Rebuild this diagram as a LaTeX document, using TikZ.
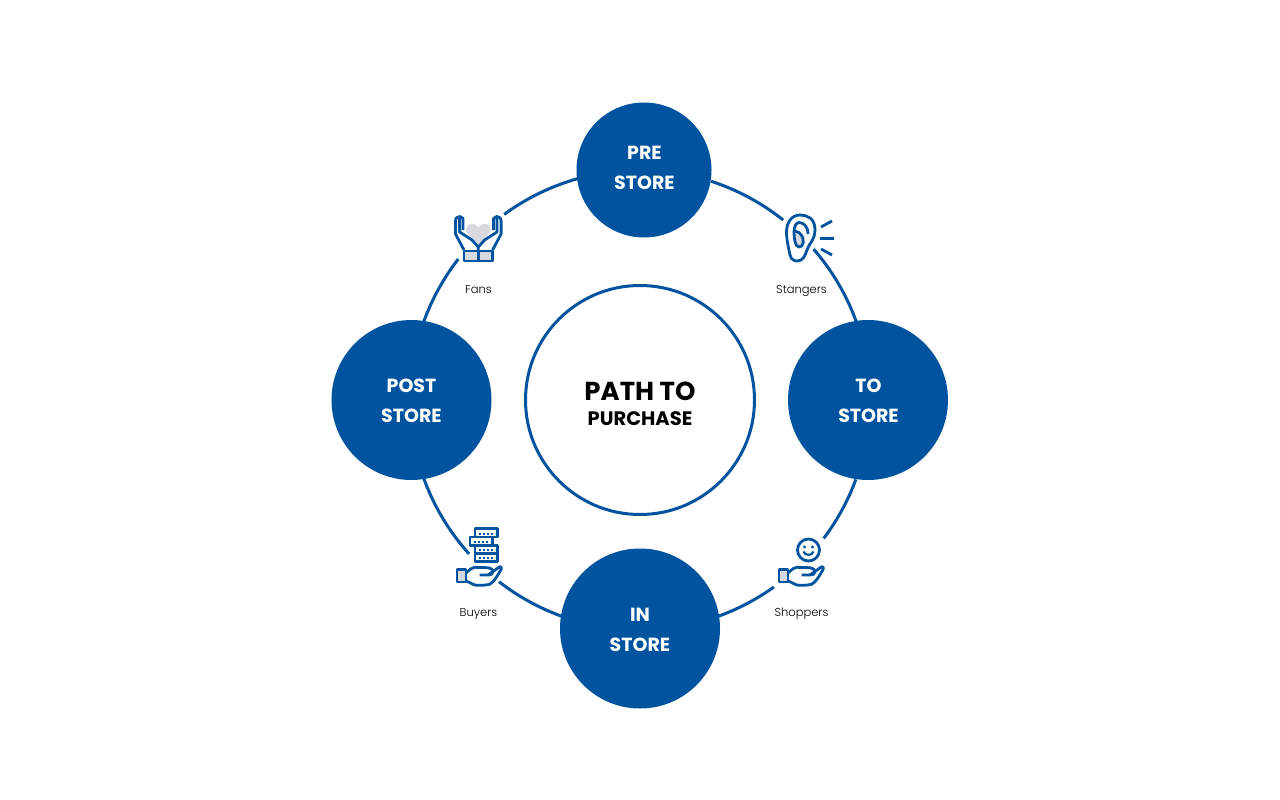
\documentclass[tikz,border=0pt]{standalone}
\usepackage{fontspec}
\setmainfont{Poppins}
\newfontfamily\captionfont{Poppins Light}
\usetikzlibrary{calc}
\definecolor{pathblue}{RGB}{0,83,159}
\definecolor{icongray}{RGB}{214,218,222}
\tikzset{
    stage/.style = {shape=circle, fill=pathblue, inner sep=0pt},
    stagetext/.style = {text=white, align=center, inner sep=0pt,
        font=\bfseries\fontsize{19}{30}\selectfont},
    ringline/.style = {draw=pathblue, line width=3pt},
    iconline/.style = {draw=pathblue, line width=2.8pt, line join=round},
    caption/.style = {anchor=base, font=\captionfont\fontsize{11.5}{14}\selectfont, text=black, inner sep=0pt},
    handicon/.pic = {
        \draw[iconline, fill=icongray] (-22,-6.5) rectangle (-13,6);
        \draw[iconline] (-12.7,-3.3) .. controls (-9,-6.5) and (-7,-8.7) .. (-4.3,-8.7) -- (9,-8.3)
            .. controls (12,-8) and (14,-6.5) .. (14,-4.3) .. controls (14,-2) and (12,-1) .. (9,-1) -- (0.7,-1);
        \draw[iconline] (9,-1) -- (20.7,-9.3) .. controls (22,-9.8) and (23,-8) .. (22.3,-7)
            .. controls (19,-1) and (15,6) .. (10.7,8.3) .. controls (6,9.5) and (-1,9.5) .. (-4.3,9) -- (-12.7,5);
    }
}
\begin{document}
\begin{tikzpicture}[x=1pt, y=-1pt]
    \useasboundingbox (0,0) rectangle (1280,800);
    \coordinate (ring) at (640,400);

    % ring pieces
    \coordinate (prer) at ($(ring)+(-72:230)$);
    \coordinate (tor) at ($(ring)+(-41:230)$);
    \coordinate (tol) at ($(ring)+(20.2:230)$);
    \coordinate (inr) at ($(ring)+(54.4:230)$);
    \coordinate (inl) at ($(ring)+(110:230)$);
    \coordinate (postl) at ($(ring)+(160.2:230)$);
    \coordinate (fansl) at ($(ring)+(199.8:230)$);
    \coordinate (fansr) at ($(ring)+(233.8:230)$);
    \draw[ringline] (prer) arc[start angle=-72, end angle=-51.5, radius=230];
    \draw[ringline] (tor) arc[start angle=-41, end angle=-19.8, radius=230];
    \draw[ringline] (tol) arc[start angle=20.2, end angle=37, radius=230];
    \draw[ringline] (inr) arc[start angle=54.4, end angle=70.2, radius=230];
    \draw[ringline] (inl) arc[start angle=110, end angle=127.8, radius=230];
    \draw[ringline] (postl) arc[start angle=160.2, end angle=138, radius=230];
    \draw[ringline] (fansl) arc[start angle=199.8, end angle=217.8, radius=230];
    \draw[ringline] (fansr) arc[start angle=233.8, end angle=254.4, radius=230];

    \node[stage, minimum size=135pt] (pre) at (644,170) {};
    \node[stage, minimum size=160pt] (to) at (868,400) {};
    \node[stage, minimum size=160pt] (in) at (640,628.5) {};
    \node[stage, minimum size=160pt] (post) at (411.5,400) {};
    \node[stagetext] (pretext) at (644.5,168) {PRE\\STORE};
    \node[stagetext] (totext) at (868.5,401) {TO\\STORE};
    \node[stagetext] (intext) at (640,629.5) {IN\\STORE};
    \node[stagetext] (posttext) at (411.5,401) {POST\\STORE};

    \node[shape=circle, draw=pathblue, line width=3pt, minimum size=229pt, inner sep=0pt] (center) at (640,400) {};
    \node[font=\bfseries\fontsize{26}{27}\selectfont, text=black, inner sep=0pt] (path) at (640,391) {PATH TO};
    \node[font=\bfseries\fontsize{19.5}{20}\selectfont, text=black, inner sep=0pt] (purchase) at (640,418.5) {PURCHASE};

    % fans
    \fill[icongray] (478.3,244) .. controls (472,238) and (466,234) .. (466,229.5) .. controls (466,222.5) and (475.5,222) .. (478.3,227.5)
        .. controls (481.1,222) and (490.6,222.5) .. (490.6,229.5) .. controls (490.6,234) and (484.6,238) .. (478.3,244);
    \draw[iconline, fill=icongray] (464,251) rectangle (492.6,261);
    \draw[iconline] (478.3,251) -- (478.3,261);
    \draw[iconline] (464,250) -- (455.5,234) -- (455.5,221) .. controls (455.5,217.5) and (458,216.5) .. (460,216.5) -- (463,218.5) -- (463,230);
    \draw[iconline] (459.6,217) -- (459.6,232) -- (472,240) -- (478.3,247) -- (478.3,251);
    \draw[iconline] (492.6,250) -- (501.1,234) -- (501.1,221) .. controls (501.1,217.5) and (498.6,216.5) .. (496.6,216.5) -- (493.6,218.5) -- (493.6,230);
    \draw[iconline] (497,217) -- (497,232) -- (484.6,240) -- (478.3,247);
    \node[caption] (fans) at (478.5,293) {Fans};

    % stangers
    \fill[icongray] (795,232) .. controls (794,236) and (795,246) .. (799,246) .. controls (803,246) and (803,239) .. (801,236) -- cycle;
    \draw[iconline] (815,230) .. controls (815,218) and (807,215) .. (800,215) .. controls (792,215) and (786.5,222) .. (786.5,232)
        .. controls (786.5,240) and (789,250) .. (790,255) .. controls (791,260) and (795,261) .. (797,261)
        .. controls (803,261) and (805,256) .. (807,250) .. controls (808,245) and (815,240) .. (815,230);
    \draw[iconline] (808,234) .. controls (808,226) and (803,222.5) .. (799,222.5) .. controls (796,222.5) and (794,227) .. (794,232)
        .. controls (794,238) and (795,247) .. (799,247) .. controls (804,247) and (804,240) .. (802,236) .. controls (801,233) and (798,232) .. (794.5,231);
    \draw[iconline] (821,227) -- (832,221);
    \draw[iconline] (820,238.5) -- (834,238.5);
    \draw[iconline] (821,249) -- (832,255);
    \node[caption] (stangers) at (801.5,293) {Stangers};

    % shoppers
    \pic at (801,576) {handicon};
    \node[shape=circle, iconline, minimum size=22pt, inner sep=0pt] (smile) at (808.5,550) {};
    \fill[pathblue] (804.5,547) circle (1.6);
    \fill[pathblue] (812.5,547) circle (1.6);
    \draw[iconline, line width=2.2pt] (803.5,551.5) .. controls (805,556) and (812,556) .. (813.5,551.5);
    \node[caption] (shoppers) at (801.5,616) {Shoppers};

    % buyers
    \pic at (479,576) {handicon};
    \draw[iconline] (475,528.5) rectangle (497.5,537);
    \draw[iconline] (470,537) rectangle (492.5,545.5);
    \draw[iconline] (475,545.5) rectangle (497.5,553.5);
    \draw[iconline] (475,553.5) rectangle (497.5,561.5);
    \draw[pathblue, line width=2pt, dash pattern=on 2pt off 2pt] (479,533.5) -- (495,533.5);
    \draw[pathblue, line width=2pt, dash pattern=on 2pt off 2pt] (474,542) -- (490,542);
    \draw[pathblue, line width=2pt, dash pattern=on 2pt off 2pt] (479,550) -- (495,550);
    \draw[pathblue, line width=2pt, dash pattern=on 2pt off 2pt] (479,558) -- (495,558);
    \node[caption] (buyers) at (478.5,616) {Buyers};
\end{tikzpicture}
\end{document}
